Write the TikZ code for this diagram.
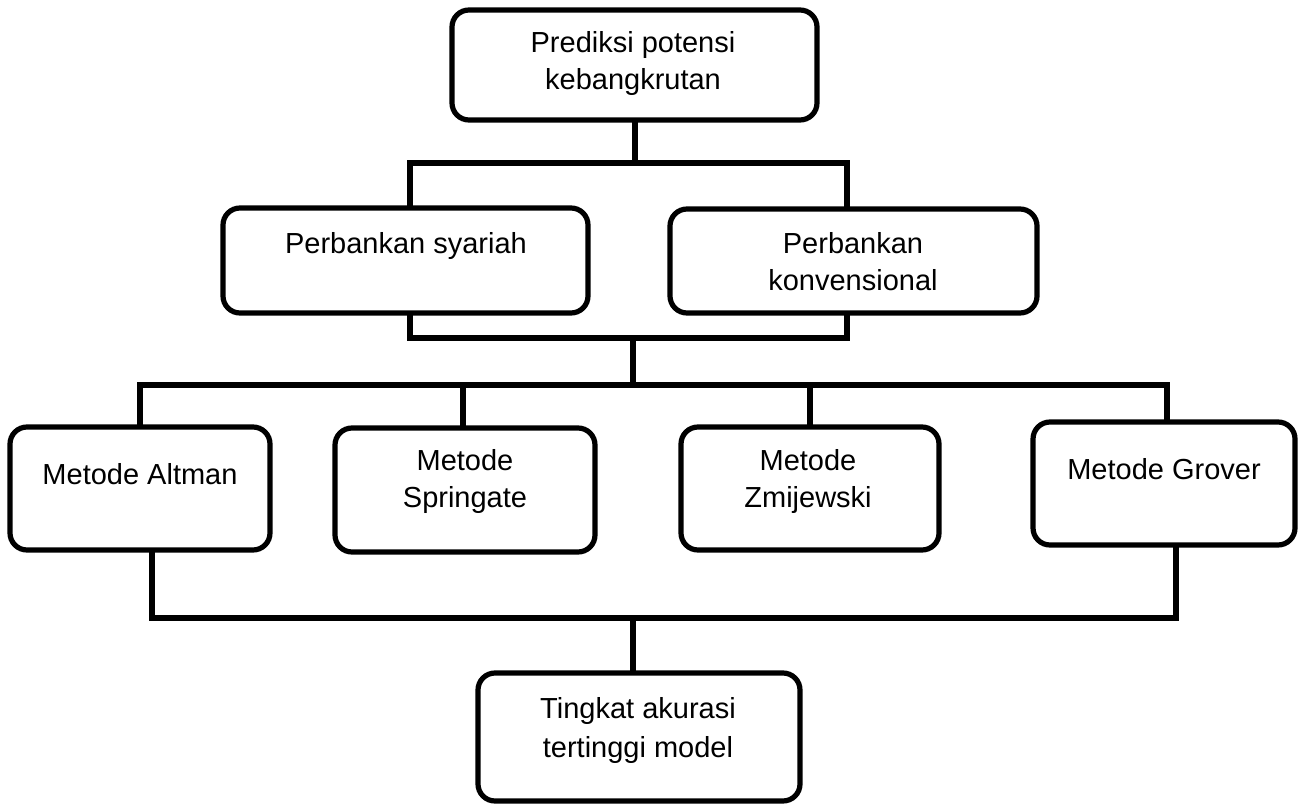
\documentclass[tikz,border=0pt]{standalone}
\usepackage{fontspec}
\setmainfont{Liberation Sans}
\begin{document}
\begin{tikzpicture}[x=1pt,y=-1pt,
  box/.style={draw=black, line width=5.2pt, rounded corners=17pt, rectangle, inner sep=0pt, fill=white},
  txt/.style={font=\fontsize{29}{37}\selectfont, align=center, inner sep=0pt},
  conn/.style={draw=black, line width=6pt, line join=miter, line cap=rect}]
\useasboundingbox (0,0) rectangle (1300,805);

% junction points of the connectors
\coordinate (b1) at (633,163);
\coordinate (b2) at (633,338);
\coordinate (b3) at (633,385);
\coordinate (b4) at (633,618);

% boxes
\node[box, minimum width=365pt, minimum height=110pt] (top) at (634.5,65) {};
\node[box, minimum width=365pt, minimum height=105pt] (syariah) at (405.5,260.5) {};
\node[box, minimum width=367pt, minimum height=104pt] (konv) at (853.5,261) {};
\node[box, minimum width=260pt, minimum height=123pt] (altman) at (140,488.5) {};
\node[box, minimum width=260pt, minimum height=124pt] (springate) at (465,490) {};
\node[box, minimum width=258pt, minimum height=123pt] (zmij) at (810,488.5) {};
\node[box, minimum width=262pt, minimum height=123pt] (grover) at (1164,483.5) {};
\node[box, minimum width=322pt, minimum height=128pt] (tingkat) at (639,737) {};

% connectors
\draw[conn] (top.south) -- (top.south |- b1);
\draw[conn] ([xshift=4.5pt]syariah.north) |- (b1) -| ([xshift=-6.5pt]konv.north);
\draw[conn] ([xshift=4.5pt]syariah.south) |- (b2) -| ([xshift=-6.5pt]konv.south);
\draw[conn] (b2) -- (b3);
\draw[conn] (altman.north) |- (b3) -| ([xshift=3pt]grover.north);
\draw[conn] ([xshift=-2pt]springate.north) |- (b3);
\draw[conn] (zmij.north) |- (b3);
\draw[conn] ([xshift=12pt]altman.south) |- (b4) -| ([xshift=12pt]grover.south);
\draw[conn] (b4) -- ([xshift=-6pt]tingkat.north);

% texts
\node[txt] (top-t) at (633,63.5) {Prediksi potensi\\kebangkrutan};
\node[txt] (syariah-t) at (406,246) {Perbankan syariah};
\node[txt] (konv-t) at (853,261.5) {Perbankan\\konvensional};
\node[txt] (altman-t) at (140,474) {Metode Altman};
\node[txt] (springate-t) at (465,481.5) {Metode\\Springate};
\node[txt] (zmij-t) at (808,481.5) {Metode\\Zmijewski};
\node[txt] (grover-t) at (1164,469) {Metode Grover};
\node[txt, font=\fontsize{29}{39}\selectfont] (tingkat-t) at (638,730) {Tingkat akurasi\\tertinggi model};
\end{tikzpicture}
\end{document}
